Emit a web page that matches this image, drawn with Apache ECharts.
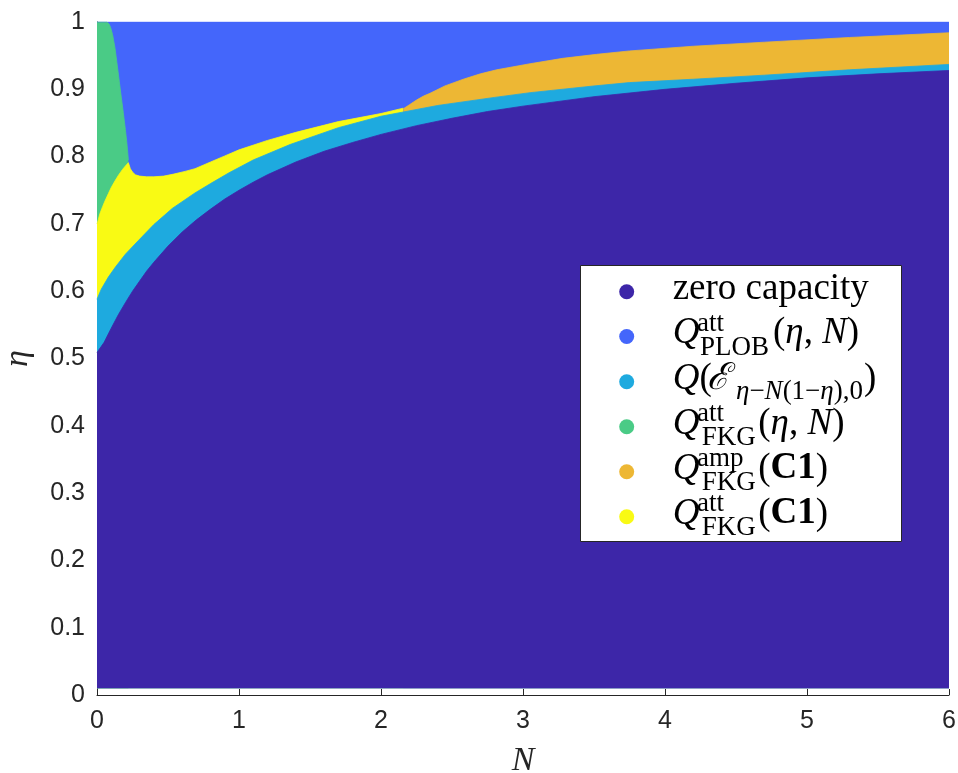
<!DOCTYPE html>
<html>
<head>
<meta charset="utf-8">
<script src="https://cdn.jsdelivr.net/npm/echarts@6/dist/echarts.min.js"></script>
<style>
html, body { margin: 0; padding: 0; background: #fff; }
#chart { width: 958px; height: 773px; }
</style>
</head>
<body>
<div id="chart"></div>
<script>
// region boundaries (eta as a function of N)

// top of the zero capacity region
var zeroN   = [0, 0.05, 0.1, 0.15, 0.2, 0.25, 0.3, 0.35, 0.4, 0.5, 0.6, 0.7, 0.8, 0.9, 1.0, 1.1, 1.2, 1.4, 1.6, 1.8, 2.0, 2.25, 2.5, 2.75, 3, 3.5, 4, 4.5, 5, 5.5, 6];
var zeroEta = [0.509, 0.524, 0.545, 0.565, 0.583, 0.600, 0.615, 0.630, 0.643, 0.667, 0.688, 0.706, 0.722, 0.737, 0.750, 0.762, 0.773, 0.792, 0.808, 0.821, 0.833, 0.846, 0.857, 0.867, 0.875, 0.889, 0.900, 0.909, 0.917, 0.923, 0.928];

// top of the Q(E_{eta-N(1-eta),0}) band
var lossN   = [0, 0.03, 0.08, 0.13, 0.2, 0.29, 0.4, 0.53, 0.69, 0.8, 0.93, 1.1, 1.36, 1.7, 2.0, 2.4, 2.8, 3.05, 3.5, 3.75, 4.2, 4.7, 5.3, 6];
var lossEta = [0.588, 0.603, 0.621, 0.636, 0.655, 0.675, 0.699, 0.723, 0.746, 0.760, 0.776, 0.795, 0.818, 0.843, 0.860, 0.876, 0.888, 0.895, 0.905, 0.910, 0.915, 0.921, 0.929, 0.937];

// top of the FKG att (C1) region (yellow)
var c1attN   = [0, 0.01, 0.02, 0.04, 0.056, 0.08, 0.1, 0.127, 0.15, 0.18, 0.2, 0.221, 0.235, 0.25, 0.27, 0.3, 0.35, 0.4, 0.47, 0.54, 0.62, 0.69, 0.8, 0.9, 1.0, 1.2, 1.4, 1.7, 2.0, 2.157];
var c1attEta = [0.700, 0.707, 0.715, 0.726, 0.734, 0.745, 0.754, 0.764, 0.772, 0.781, 0.786, 0.791, 0.782, 0.777, 0.773, 0.771, 0.770, 0.770, 0.771, 0.774, 0.778, 0.782, 0.792, 0.801, 0.810, 0.824, 0.836, 0.852, 0.864, 0.872];

// top of the FKG amp (C1) region (orange)
var c1ampN   = [2.157, 2.2, 2.25, 2.3, 2.345, 2.45, 2.58, 2.7, 2.815, 3.05, 3.28, 3.52, 3.75, 4.2, 4.7, 5.3, 6];
var c1ampEta = [0.871, 0.877, 0.884, 0.890, 0.894, 0.905, 0.915, 0.923, 0.929, 0.938, 0.946, 0.952, 0.957, 0.964, 0.970, 0.977, 0.984];

// right edge of the FKG att (eta, N) region (green)
var fkgN   = [0, 0.07, 0.078, 0.085, 0.096, 0.11, 0.127, 0.14, 0.157, 0.17, 0.185, 0.2, 0.209, 0.215, 0.221];
var fkgEta = [1, 1, 0.999, 0.997, 0.992, 0.981, 0.961, 0.940, 0.912, 0.890, 0.866, 0.840, 0.823, 0.810, 0.795];

// PLOB fills everything above
var plobN   = [0, 6];
var plobEta = [1, 1];

var colZero = '#3D26A8';
var colPlob = '#4466FB';
var colLoss = '#1EAADF';
var colFkg  = '#4ACB86';
var colAmp  = '#EDB734';
var colAtt  = '#F9FA14';

function pairs(xs, ys) {
    var out = [];
    for (var i = 0; i < xs.length; i++) out.push([xs[i], ys[i]]);
    return out;
}

function region(name, color, xs, ys) {
    return {
        name: name,
        type: 'line',
        data: pairs(xs, ys),
        showSymbol: false,
        silent: true,
        lineStyle: { width: 0.8, color: color },
        areaStyle: { color: color, opacity: 1, origin: 0.01 }
    };
}

var chart = echarts.init(document.getElementById('chart'));

var axisCol = '#262626';
var serif = '"Liberation Serif", "DejaVu Serif", serif';

// legend drawn by hand so the math labels can carry sub/superscripts
var rowY = [291.7, 336.5, 381.7, 426.7, 471.7, 516.7];
var rowCol = [colZero, colPlob, colLoss, colFkg, colAmp, colAtt];
var mainFs = 37, smallFs = 27;

function t(x, y, text, font, extra) {
    var s = { text: text, fill: '#000', font: font, textAlign: 'left', textVerticalAlign: 'middle' };
    if (extra) for (var k in extra) s[k] = extra[k];
    return { type: 'text', x: x, y: y, z: 101, silent: true, style: s };
}
var fMain = mainFs + 'px ' + serif;
var fItal = 'italic ' + mainFs + 'px ' + serif;
var fSmall = smallFs + 'px ' + serif;
var richMain = {
    r: { fontFamily: serif, fontSize: mainFs, fill: '#000' },
    i: { fontFamily: serif, fontSize: mainFs, fontStyle: 'italic', fill: '#000' },
    b: { fontFamily: serif, fontSize: mainFs, fontWeight: 'bold', fill: '#000' }
};
var richSmall = {
    r: { fontFamily: serif, fontSize: smallFs, fill: '#000' },
    i: { fontFamily: serif, fontSize: smallFs, fontStyle: 'italic', fill: '#000' }
};

var legendEls = [{
    type: 'rect', z: 100, silent: true,
    shape: { x: 580.5, y: 265.5, width: 321, height: 276 },
    style: { fill: '#fff', stroke: axisCol, lineWidth: 1 }
}];
for (var i = 0; i < rowY.length; i++) {
    legendEls.push({ type: 'circle', z: 101, silent: true, shape: { cx: 626.7, cy: rowY[i], r: 7.5 }, style: { fill: rowCol[i] } });
}
function qRow(y, sup, sub, subX, restX, rest) {
    legendEls.push(t(672.7, y - 2.8, 'Q', fItal));
    legendEls.push(t(697, y - 12.7, sup, fSmall));
    legendEls.push(t(subX, y + 11, sub, fSmall));
    legendEls.push(t(restX, y - 2.8, rest, fMain, { rich: richMain }));
}
legendEls.push(t(672.7, rowY[0] - 2.8, 'zero capacity', fMain));
qRow(rowY[1], 'att', 'PLOB', 700, 773, '{r|(}{i|η}{r|, }{i|N}{r|)}');
legendEls.push(t(672.7, rowY[2] - 2.8, '{i|Q}{r|(}', fMain, { rich: richMain }));
legendEls.push(t(706.7, rowY[2] - 2.8, 'ℰ', fItal));
legendEls.push(t(736, rowY[2] + 10, '{i|η}{r|−}{i|N}{r|(1−}{i|η}{r|),0}', fSmall, { rich: richSmall }));
legendEls.push(t(864, rowY[2] - 2.8, ')', fMain));
qRow(rowY[3], 'att', 'FKG', 701.7, 758.3, '{r|(}{i|η}{r|, }{i|N}{r|)}');
qRow(rowY[4], 'amp', 'FKG', 701.7, 758.3, '{r|(}{b|C1}{r|)}');
qRow(rowY[5], 'att', 'FKG', 701.7, 758.3, '{r|(}{b|C1}{r|)}');

var option = {
    animation: false,
    backgroundColor: '#fff',
    grid: { left: 97, right: 9, top: 22, bottom: 78, containLabel: false, outerBoundsMode: 'none' },
    xAxis: {
        type: 'value',
        min: 0, max: 6, interval: 1,
        name: 'N',
        nameLocation: 'middle',
        nameGap: 49,
        nameTextStyle: { fontFamily: serif, fontStyle: 'italic', fontSize: 34, color: axisCol },
        axisLine: { onZero: false, lineStyle: { color: axisCol, width: 1 } },
        axisTick: { inside: true, length: 6, lineStyle: { color: axisCol } },
        axisLabel: { fontFamily: '"Liberation Sans", Arial, sans-serif', fontSize: 25, color: axisCol, margin: 14 },
        splitLine: { show: false }
    },
    yAxis: {
        type: 'value',
        min: 0, max: 1, interval: 0.1,
        name: 'η',
        nameLocation: 'middle',
        nameGap: 62,
        nameTextStyle: { fontFamily: serif, fontStyle: 'italic', fontSize: 34, color: axisCol },
        axisLine: { onZero: false, lineStyle: { color: axisCol, width: 1 } },
        axisTick: { inside: true, length: 6, lineStyle: { color: axisCol } },
        axisLabel: { fontFamily: '"Liberation Sans", Arial, sans-serif', fontSize: 25, color: axisCol, margin: 12 },
        splitLine: { show: false }
    },
    series: [
        region('plob', colPlob, plobN, plobEta),
        region('fkg', colFkg, fkgN, fkgEta),
        region('c1att', colAtt, c1attN, c1attEta),
        region('c1amp', colAmp, c1ampN, c1ampEta),
        region('loss', colLoss, lossN, lossEta),
        region('zero', colZero, zeroN, zeroEta)
    ],
    graphic: legendEls
};

chart.setOption(option);
</script>
</body>
</html>
